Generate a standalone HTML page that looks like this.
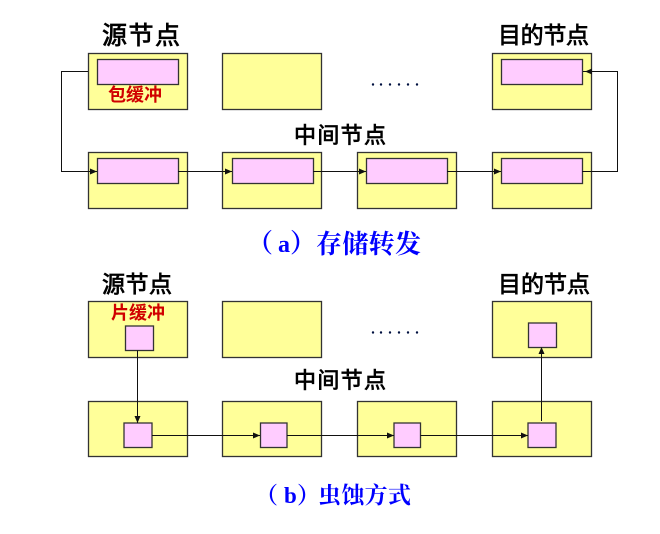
<!DOCTYPE html>
<html><head><meta charset="utf-8"><style>
html,body{margin:0;padding:0;background:#fff}
svg{display:block}
text{font-family:"Liberation Serif","Noto Serif CJK SC",serif;font-weight:700}
.s{font-family:"Liberation Sans","Noto Sans CJK SC",sans-serif;font-weight:400;stroke:#000;stroke-width:.75}
.r{font-family:"Liberation Sans","Noto Sans CJK SC",sans-serif;font-weight:700}
.n{fill:#ffff99;stroke:#333;stroke-width:1.3}
.p{fill:#ffccff;stroke:#333;stroke-width:1.3}
.l{fill:none;stroke:#111;stroke-width:1}
.a{fill:#111}
</style></head><body>
<svg width="660" height="534" viewBox="0 0 660 534" xmlns="http://www.w3.org/2000/svg">
<rect width="660" height="534" fill="#fff"/>
<!-- top -->
<rect class="n" x="88.5" y="53.5" width="99" height="56"/>
<rect class="n" x="222.5" y="53.5" width="99" height="56"/>
<rect class="n" x="492.5" y="53.5" width="99" height="56"/>
<rect class="n" x="88.5" y="152.5" width="99" height="56"/>
<rect class="n" x="222.5" y="152.5" width="99" height="56"/>
<rect class="n" x="357.5" y="152.5" width="99" height="56"/>
<rect class="n" x="492.5" y="152.5" width="99" height="56"/>
<rect class="p" x="97.5" y="59.5" width="81" height="25"/>
<rect class="p" x="501.5" y="59.5" width="81" height="25"/>
<rect class="p" x="97.5" y="158.5" width="81" height="25"/>
<rect class="p" x="232.5" y="158.5" width="81" height="25"/>
<rect class="p" x="366.5" y="158.5" width="81" height="25"/>
<rect class="p" x="501.5" y="158.5" width="81" height="25"/>
<path class="l" d="M88 71.5H61.5V171.5H97"/>
<path class="l" d="M178 171.5H232M313 171.5H366M447 171.5H501M582 171.5H617.5V71.5H583"/>
<path class="a" d="M97 171.5l-7-3v6zM232 171.5l-7-3v6zM366 171.5l-7-3v6zM501 171.5l-7-3v6zM585 71.5l7-3v6z"/>
<!-- bottom -->
<rect class="n" x="88.5" y="301.5" width="99" height="56"/>
<rect class="n" x="222.5" y="301.5" width="99" height="56"/>
<rect class="n" x="492.5" y="301.5" width="99" height="56"/>
<rect class="n" x="88.5" y="401.5" width="99" height="55"/>
<rect class="n" x="222.5" y="401.5" width="99" height="55"/>
<rect class="n" x="357.5" y="401.5" width="99" height="55"/>
<rect class="n" x="492.5" y="401.5" width="99" height="55"/>
<rect class="p" x="125.5" y="326" width="28" height="24.5"/>
<rect class="p" x="528.5" y="323" width="28" height="24.5"/>
<rect class="p" x="124" y="423" width="28" height="24.5"/>
<rect class="p" x="260.5" y="423" width="26.5" height="24.5"/>
<rect class="p" x="394" y="423" width="26.5" height="24.5"/>
<rect class="p" x="528" y="423" width="28" height="24.5"/>
<path class="l" d="M137.5 350.5V423M152 435.5H260M287 435.5H394M420.5 435.5H528M541.5 421V348"/>
<path class="a" d="M137.5 423l-3-7h6zM260 435.5l-7-3v6zM394 435.5l-7-3v6zM528 435.5l-7-3v6zM541.5 347l-3 7h6z"/>
<!-- dots -->
<g fill="#001040"><circle cx="373" cy="84.5" r="1.2"/><circle cx="381" cy="84.5" r="1.2"/><circle cx="390" cy="84.5" r="1.2"/><circle cx="399" cy="84.5" r="1.2"/><circle cx="408" cy="84.5" r="1.2"/><circle cx="417" cy="84.5" r="1.2"/>
<circle cx="373" cy="332.5" r="1.2"/><circle cx="381" cy="332.5" r="1.2"/><circle cx="390" cy="332.5" r="1.2"/><circle cx="399" cy="332.5" r="1.2"/><circle cx="408" cy="332.5" r="1.2"/><circle cx="417" cy="332.5" r="1.2"/></g>
<!-- labels -->
<text class="s" x="102" y="44" font-size="25" textLength="78" lengthAdjust="spacing">源节点</text>
<text class="s" x="498" y="43" font-size="23" textLength="91" lengthAdjust="spacing">目的节点</text>
<text class="s" x="294" y="143" font-size="22" textLength="92" lengthAdjust="spacing">中间节点</text>
<text class="s" x="102" y="292" font-size="23" textLength="70" lengthAdjust="spacing">源节点</text>
<text class="s" x="498" y="292" font-size="23" textLength="92" lengthAdjust="spacing">目的节点</text>
<text class="s" x="294" y="388" font-size="22" textLength="92" lengthAdjust="spacing">中间节点</text>
<text class="r" x="108" y="101" font-size="18" fill="#d00000" textLength="54" lengthAdjust="spacing">包缓冲</text>
<text class="r" x="111" y="319" font-size="18" fill="#d00000" textLength="54" lengthAdjust="spacing">片缓冲</text>
<g fill="#0000ff">
<text x="247" y="252" font-size="26">（</text>
<text x="278" y="252" font-size="24">a</text>
<text x="290" y="252" font-size="26">）</text>
<text x="316" y="253" font-size="26" textLength="105" lengthAdjust="spacing">存储转发</text>
<text x="255" y="503" font-size="23">（</text>
<text x="284" y="503" font-size="23">b</text>
<text x="297" y="503" font-size="23">）</text>
<text x="318" y="503" font-size="23" textLength="93" lengthAdjust="spacing">虫蚀方式</text>
</g>
</svg>
</body></html>
